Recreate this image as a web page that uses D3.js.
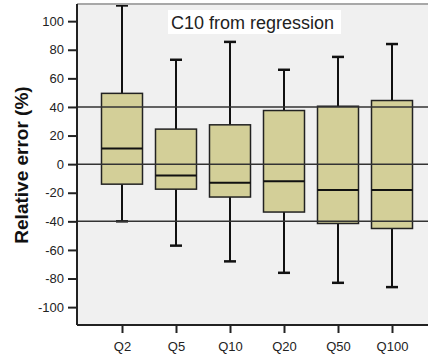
<!DOCTYPE html>
<html>
<head>
<meta charset="utf-8">
<script src="https://cdn.jsdelivr.net/npm/d3@7"></script>
<style>
  body { margin: 0; background: #fff; }
  svg { display: block; }
</style>
</head>
<body>
<script>
// values
var groups    = ["Q2", "Q5", "Q10", "Q20", "Q50", "Q100"];
var whiskerLo = [-40, -57, -68, -76, -83, -86];
var boxLo     = [-14, -17.5, -23, -33.5, -41.5, -45];
var medians   = [11, -8, -13, -12, -18, -18];
var boxHi     = [49.5, 24.5, 27.5, 37.5, 40.5, 44.5];
var whiskerHi = [111, 73, 85.5, 66, 75, 84];
var yTicks    = [100, 80, 60, 40, 20, 0, -20, -40, -60, -80, -100];
var refLines  = [40, 0, -40];

var W = 428, H = 364;
var plot = {left: 77, top: 4, right: 428, bottom: 325};

var svg = d3.select("body").append("svg")
    .attr("width", W)
    .attr("height", H);

var x = d3.scalePoint().domain(groups).range([122, 392]);
var y = d3.scaleLinear().domain([-112.5, 112]).range([plot.bottom, plot.top]);

// plot background
svg.append("rect")
    .attr("x", plot.left).attr("y", plot.top)
    .attr("width", plot.right - plot.left).attr("height", plot.bottom - plot.top)
    .attr("fill", "#f0f0f0");

var rows = groups.map(function(g, i) {
  return {g: g, lo: whiskerLo[i], q1: boxLo[i], med: medians[i], q3: boxHi[i], hi: whiskerHi[i]};
});

var boxW = 41, capW = 12;

var box = svg.append("g").selectAll("g").data(rows).join("g");

// whiskers
box.append("line")
    .attr("x1", d => x(d.g)).attr("x2", d => x(d.g))
    .attr("y1", d => y(d.hi)).attr("y2", d => y(d.q3))
    .attr("stroke", "#111").attr("stroke-width", 2);
box.append("line")
    .attr("x1", d => x(d.g)).attr("x2", d => x(d.g))
    .attr("y1", d => y(d.q1)).attr("y2", d => y(d.lo))
    .attr("stroke", "#111").attr("stroke-width", 2);
// caps
box.append("line")
    .attr("x1", d => x(d.g) - capW / 2).attr("x2", d => x(d.g) + capW / 2)
    .attr("y1", d => y(d.hi)).attr("y2", d => y(d.hi))
    .attr("stroke", "#111").attr("stroke-width", 2.5);
box.append("line")
    .attr("x1", d => x(d.g) - capW / 2).attr("x2", d => x(d.g) + capW / 2)
    .attr("y1", d => y(d.lo)).attr("y2", d => y(d.lo))
    .attr("stroke", "#111").attr("stroke-width", 2.5);
// boxes
box.append("rect")
    .attr("x", d => x(d.g) - boxW / 2)
    .attr("y", d => y(d.q3))
    .attr("width", boxW)
    .attr("height", d => y(d.q1) - y(d.q3))
    .attr("fill", "#d3cf98")
    .attr("stroke", "#222").attr("stroke-width", 1.5);
// medians
box.append("line")
    .attr("x1", d => x(d.g) - boxW / 2).attr("x2", d => x(d.g) + boxW / 2)
    .attr("y1", d => y(d.med)).attr("y2", d => y(d.med))
    .attr("stroke", "#111").attr("stroke-width", 2);

// reference lines on top
svg.append("g").selectAll("line").data(refLines).join("line")
    .attr("x1", plot.left).attr("x2", plot.right)
    .attr("y1", d => y(d)).attr("y2", d => y(d))
    .attr("stroke", "#333").attr("stroke-width", 1.5);

// top border
svg.append("line")
    .attr("x1", plot.left).attr("x2", plot.right)
    .attr("y1", plot.top).attr("y2", plot.top)
    .attr("stroke", "#a8a8a8").attr("stroke-width", 2);

// axes (plain hyphen for negatives, like the original)
var yAxis = svg.append("g")
    .attr("transform", "translate(" + plot.left + ",0)")
    .call(d3.axisLeft(y).tickValues(yTicks).tickFormat(d => String(d))
      .tickSize(9).tickPadding(4).tickSizeOuter(0));
var xAxis = svg.append("g")
    .attr("transform", "translate(0," + plot.bottom + ")")
    .call(d3.axisBottom(x).tickSize(8).tickPadding(8).tickSizeOuter(0));

[yAxis, xAxis].forEach(function(a) {
  a.select(".domain").attr("stroke", "#222").attr("stroke-width", 2);
  a.selectAll(".tick line").attr("stroke", "#222").attr("stroke-width", 2);
  a.selectAll(".tick text")
      .attr("fill", "#222")
      .style("font-family", "Liberation Sans, Arial, sans-serif")
      .style("font-size", "13px");
});
yAxis.select(".domain").attr("d", "M0," + plot.top + "V" + plot.bottom);
xAxis.select(".domain").attr("d", "M" + plot.left + ",0H" + plot.right);
xAxis.selectAll(".tick text").attr("dy", "0.71em").attr("y", 17);

// title box
var title = svg.append("g");
title.append("rect")
    .attr("x", 168).attr("y", 10).attr("width", 173).attr("height", 24)
    .attr("fill", "#fff");
title.append("text")
    .attr("x", 171).attr("y", 29)
    .style("font-family", "Liberation Sans, Arial, sans-serif")
    .style("font-size", "18px")
    .attr("fill", "#222")
    .text("C10 from regression");

// y label
svg.append("text")
    .attr("transform", "translate(28,165) rotate(-90)")
    .attr("text-anchor", "middle")
    .style("font-family", "Liberation Sans, Arial, sans-serif")
    .style("font-size", "19px")
    .style("font-weight", "bold")
    .attr("fill", "#111")
    .text("Relative error (%)");
</script>
</body>
</html>
